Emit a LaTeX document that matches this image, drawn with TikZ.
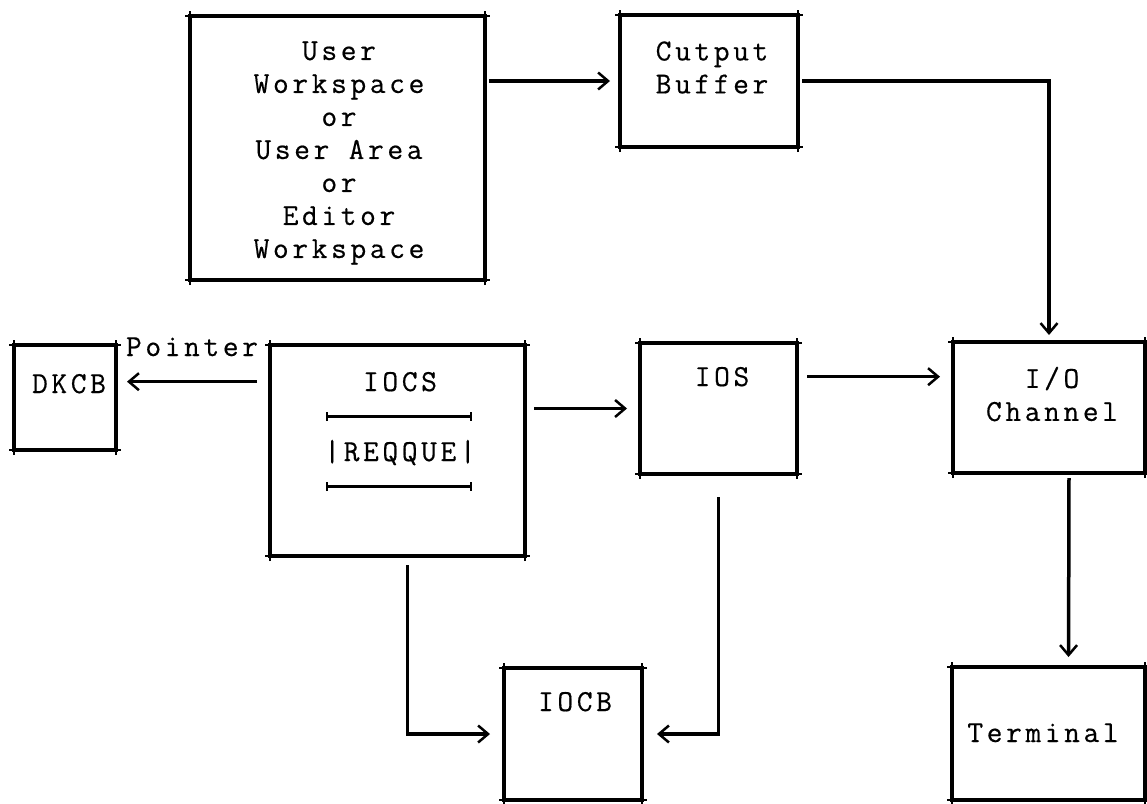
\documentclass[tikz,border=0pt]{standalone}
\usepackage{fontspec}
\newfontfamily\typewr[LetterSpace=12,FakeBold=0.5]{Latin Modern Mono}
\usetikzlibrary{arrows.meta}
\usetikzlibrary{positioning}

\begin{document}
\begin{tikzpicture}[
  x=1pt, y=-1pt,
  box/.style={draw, line width=4pt, inner sep=0pt, outer sep=0pt},
  lbl/.style={font=\typewr\fontsize{30.5}{33}\selectfont, align=center, inner sep=0pt},
  tick/.style={line width=1.5pt},
  arr/.style={line width=3.5pt, -{Straight Barb[length=10pt,width=17pt,line width=2.5pt]}},
  rule/.style={line width=3pt, {Bar[width=9pt,line width=1.5pt]}-{Bar[width=9pt,line width=1.5pt]}}
]
\useasboundingbox (0,0) rectangle (1147,803);

% boxes
\node[box, minimum width=295pt, minimum height=264pt] (uw)   at (337.5,148) {};
\node[box, minimum width=178pt, minimum height=132pt] (ob)   at (709,81) {};
\node[box, minimum width=102pt, minimum height=105pt] (dkcb) at (65,397.5) {};
\node[box, minimum width=255pt, minimum height=211pt] (iocs) at (397.5,450.5) {};
\node[box, minimum width=157pt, minimum height=131pt] (ios)  at (718.5,408.5) {};
\node[box, minimum width=192pt, minimum height=131pt] (io)   at (1049,407.5) {};
\node[box, minimum width=138pt, minimum height=132pt] (iocb) at (573,734) {};
\node[box, minimum width=193pt, minimum height=133pt] (term) at (1048.5,733.5) {};

% corner ticks
\foreach \b in {uw,ob,dkcb,iocs,ios,io,iocb,term}
  \foreach \c in {north west,north east,south west,south east}
    \draw[tick] ([xshift=-5pt]\b.\c) -- ([xshift=5pt]\b.\c)
                ([yshift=-5pt]\b.\c) -- ([yshift=5pt]\b.\c);

% texts
\node[lbl] (uwtxt) at (339,153) {User\\Workspace\\or\\User Area\\or\\Editor\\Workspace};
\node[lbl] (obtxt) at (712,67.5) {Cutput\\Buffer};
\node[lbl, anchor=base] (dkcbtxt) at (69,393) {DKCB};
\node[lbl, anchor=base] (ptr) at (192,356) {Pointer};
\node[lbl, anchor=base] (iocstxt) at (400,391) {IOCS};
\node[lbl, anchor=base] (req) at (400,461) {|REQQUE|};
\node[lbl, anchor=base] (iostxt) at (722,386) {IOS};
\node[lbl] (iotxt) at (1052,394) {I/O\\Channel};
\node[lbl, anchor=base] (iocbtxt) at (575,711) {IOCB};
\node[lbl, anchor=base] (termtxt) at (1043,742) {Terminal};

\draw[rule] ([xshift=2pt,yshift=36pt]req.west) -- ([xshift=-4pt,yshift=36pt]req.east);
\draw[rule] ([xshift=2pt,yshift=-34pt]req.west) -- ([xshift=-4pt,yshift=-34pt]req.east);

% connectors
\draw[arr, shorten <=4pt, shorten >=10pt] (uw.east |- ob.west) -- (ob.west);
\draw[arr, shorten <=4pt, shorten >=7pt] (ob.east) -| (io.north);
\draw[arr, shorten <=13pt, shorten >=11pt] (iocs.west |- iocstxt) -- (dkcb.east |- iocstxt);
\draw[arr, shorten <=9pt, shorten >=13pt] (iocs.east |- ios.west) -- (ios.west);
\draw[arr, shorten <=10pt, shorten >=13pt] (ios.east |- iostxt) -- (io.west |- iostxt);
\draw[arr, shorten <=5pt, shorten >=10pt] ([xshift=20pt]io.south) -- ([xshift=20pt]term.north);
\draw[arr, shorten <=9pt, shorten >=14pt] ([xshift=10pt]iocs.south) |- (iocb.west);
\draw[arr, shorten <=23pt, shorten >=15pt] (ios.south) |- (iocb.east);
\end{tikzpicture}
\end{document}
